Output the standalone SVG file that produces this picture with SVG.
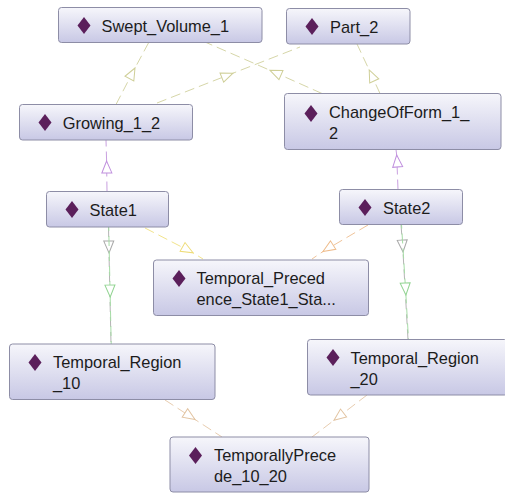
<svg xmlns="http://www.w3.org/2000/svg" width="505" height="493" viewBox="0 0 505 493">
<style>
.box{fill:url(#g);stroke:#8d8da6;stroke-width:1}
.dia{fill:#5b1f5b}
.lbl{font-family:"Liberation Sans",Arial,sans-serif;font-size:16.4px;fill:#1c1c1c}
.e{fill:none;stroke-width:1;stroke-dasharray:10 5}
.ol{stroke:#d6d6a8}.pu{stroke:#c9a0e0}.gr{stroke:#a6dca6}.gy{stroke:#b4b4b4}.ye{stroke:#f2e48c}.or{stroke:#f0c49a}.tn{stroke:#e8cdb0}
</style>
<defs>
<linearGradient id="g" x1="0" y1="0" x2="0" y2="1">
<stop offset="0" stop-color="#f6f6fb"/>
<stop offset="1" stop-color="#c8c8e5"/>
</linearGradient>
<marker id="aol" markerUnits="userSpaceOnUse" markerWidth="14" markerHeight="12" viewBox="-13 -6 14 12" refX="0" refY="0" orient="auto" overflow="visible"><path d="M0,0 L-12,-5 L-12,5 Z" fill="#fff" stroke="#cfcf98"/></marker>
<marker id="apu" markerUnits="userSpaceOnUse" markerWidth="14" markerHeight="12" viewBox="-13 -6 14 12" refX="0" refY="0" orient="auto" overflow="visible"><path d="M0,0 L-12,-5 L-12,5 Z" fill="#fff" stroke="#c090de"/></marker>
<marker id="agr" markerUnits="userSpaceOnUse" markerWidth="14" markerHeight="12" viewBox="-13 -6 14 12" refX="0" refY="0" orient="auto" overflow="visible"><path d="M0,0 L-12,-5 L-12,5 Z" fill="#fff" stroke="#92d492"/></marker>
<marker id="agy" markerUnits="userSpaceOnUse" markerWidth="14" markerHeight="12" viewBox="-13 -6 14 12" refX="0" refY="0" orient="auto" overflow="visible"><path d="M0,0 L-12,-5 L-12,5 Z" fill="#fff" stroke="#a8a8a8"/></marker>
<marker id="aye" markerUnits="userSpaceOnUse" markerWidth="14" markerHeight="12" viewBox="-13 -6 14 12" refX="0" refY="0" orient="auto" overflow="visible"><path d="M0,0 L-12,-5 L-12,5 Z" fill="#fff" stroke="#eedc78"/></marker>
<marker id="aor" markerUnits="userSpaceOnUse" markerWidth="14" markerHeight="12" viewBox="-13 -6 14 12" refX="0" refY="0" orient="auto" overflow="visible"><path d="M0,0 L-12,-5 L-12,5 Z" fill="#fff" stroke="#eebc8c"/></marker>
<marker id="atn" markerUnits="userSpaceOnUse" markerWidth="14" markerHeight="12" viewBox="-13 -6 14 12" refX="0" refY="0" orient="auto" overflow="visible"><path d="M0,0 L-12,-5 L-12,5 Z" fill="#fff" stroke="#e2c4a2"/></marker>
</defs>
<g id="connectors">
<polyline class="e ol" points="116,104.5 135,68 149,42" marker-mid="url(#aol)"/>
<polyline class="e ol" points="157,103 233,73.2 300,47" marker-mid="url(#aol)"/>
<polyline class="e ol" points="322,93.5 270,70.3 205,42" marker-mid="url(#aol)"/>
<polyline class="e ol" points="380,93.5 369.2,70 357,44" marker-mid="url(#aol)"/>
<polyline class="e pu" points="107,191.5 106.6,161 106,140" marker-mid="url(#apu)"/>
<polyline class="e pu" points="398,189.5 396.7,155 396,149.5" marker-mid="url(#apu)"/>
<polyline class="e gy" points="108.5,227 109,253 111,344" marker-mid="url(#agy)"/>
<polyline class="e gr" points="108.7,227 110.2,297 111.2,344" marker-mid="url(#agr)" stroke-dashoffset="6"/>
<polyline class="e gy" points="401,224.5 403,252 408,339.5" marker-mid="url(#agy)"/>
<polyline class="e gr" points="401.5,224.5 405.9,295 408.5,339.5" marker-mid="url(#agr)" stroke-dashoffset="6"/>
<polyline class="e ye" points="145,228 193,252.8 203,259" marker-mid="url(#aye)"/>
<polyline class="e or" points="368,225 323,251.5 312,259" marker-mid="url(#aor)"/>
<polyline class="e tn" points="165,400 195,419.5 222,437" marker-mid="url(#atn)"/>
<polyline class="e tn" points="367,395 334,420.3 312,437" marker-mid="url(#atn)"/>
</g>
<g id="Swept_Volume_1">
<rect class="box" x="58.5" y="7.5" width="203.5" height="35" rx="3"/>
<polygon class="dia" points="84,17 90.5,25.5 84,34 77.5,25.5"/>
<text class="lbl" x="101.5" y="31.5">Swept_Volume_1</text>
</g>
<g id="Part_2">
<rect class="box" x="286.5" y="8.5" width="123.5" height="35.5" rx="3"/>
<polygon class="dia" points="312,18 318.5,26.5 312,35 305.5,26.5"/>
<text class="lbl" x="330" y="32.5">Part_2</text>
</g>
<g id="Growing_1_2">
<rect class="box" x="19.5" y="104.5" width="173" height="35.5" rx="3"/>
<polygon class="dia" points="45,114 51.5,122.5 45,131 38.5,122.5"/>
<text class="lbl" x="62.7" y="128.5">Growing_1_2</text>
</g>
<g id="ChangeOfForm_1_2">
<rect class="box" x="284.5" y="93.5" width="216.5" height="56" rx="3"/>
<polygon class="dia" points="311,105 317.5,113.5 311,122 304.5,113.5"/>
<text class="lbl" x="329" y="117.5">ChangeOfForm_1_</text>
<text class="lbl" x="329" y="138.5">2</text>
</g>
<g id="State1">
<rect class="box" x="46.5" y="191.5" width="122" height="35.5" rx="3"/>
<polygon class="dia" points="72,201 78.5,209.5 72,218 65.5,209.5"/>
<text class="lbl" x="89.5" y="215.5">State1</text>
</g>
<g id="State2">
<rect class="box" x="339.5" y="189.5" width="123" height="35" rx="3"/>
<polygon class="dia" points="365,199 371.5,207.5 365,216 358.5,207.5"/>
<text class="lbl" x="383" y="213.5">State2</text>
</g>
<g id="Temporal_Precedence_State1_State2">
<rect class="box" x="153.5" y="260" width="215" height="55.5" rx="3"/>
<polygon class="dia" points="179,270 185.5,278.5 179,287 172.5,278.5"/>
<text class="lbl" x="196.5" y="284">Temporal_Preced</text>
<text class="lbl" x="196.5" y="305">ence_State1_Sta...</text>
</g>
<g id="Temporal_Region_10">
<rect class="box" x="9.5" y="344" width="205.5" height="55.5" rx="3"/>
<polygon class="dia" points="35,354 41.5,362.5 35,371 28.5,362.5"/>
<text class="lbl" x="53" y="368">Temporal_Region</text>
<text class="lbl" x="53" y="389">_10</text>
</g>
<g id="Temporal_Region_20">
<rect class="box" x="307.5" y="339.5" width="200" height="55.5" rx="3"/>
<polygon class="dia" points="333,349 339.5,357.5 333,366 326.5,357.5"/>
<text class="lbl" x="350.5" y="363.5">Temporal_Region</text>
<text class="lbl" x="350.5" y="384.5">_20</text>
</g>
<g id="TemporallyPrecede_10_20">
<rect class="box" x="170" y="437" width="199" height="55" rx="3"/>
<polygon class="dia" points="195.5,447 202,455.5 195.5,464 189,455.5"/>
<text class="lbl" x="214" y="461">TemporallyPrece</text>
<text class="lbl" x="214" y="482">de_10_20</text>
</g>
</svg>
